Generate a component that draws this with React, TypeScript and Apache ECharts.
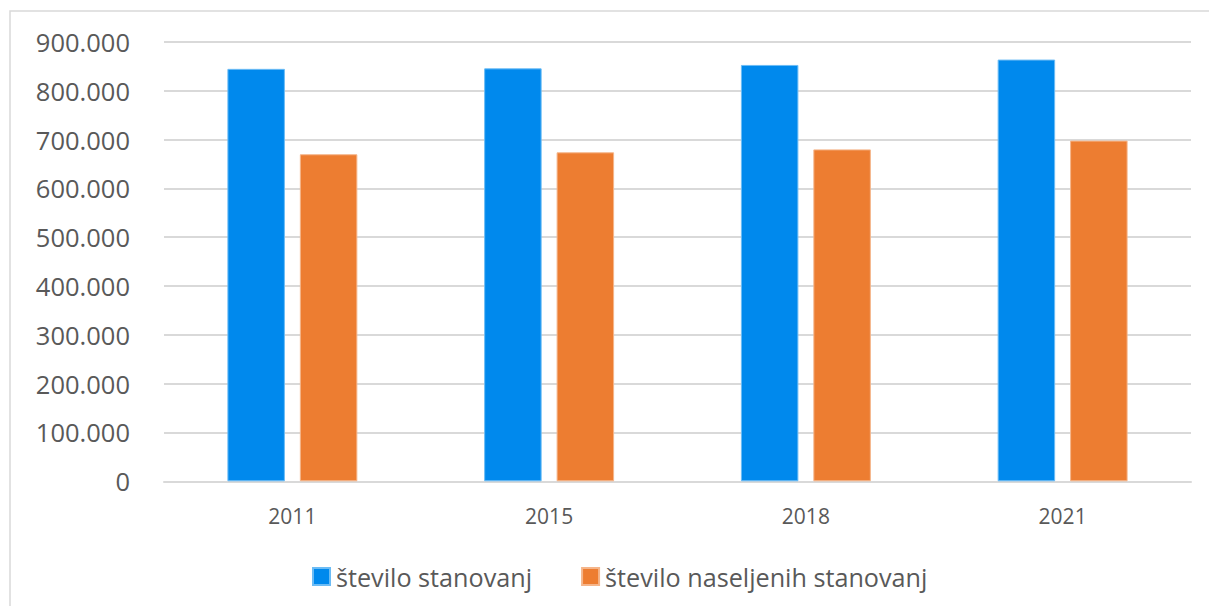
import React, { useEffect, useRef } from "react";
import * as echarts from "echarts";

const categories = ["2011", "2015", "2018", "2021"];
const seriesNames = ["število stanovanj", "število naseljenih stanovanj"];
const stanovanja = [845000, 846000, 853000, 864000];
const naseljena = [670000, 674000, 680000, 698000];

const fmt = (v: number) => {
  if (v === 0) return "0";
  return String(v).replace(/\B(?=(\d{3})+(?!\d))/g, ".");
};

export default function App() {
  const ref = useRef<HTMLDivElement>(null);
  useEffect(() => {
    if (!ref.current) return;
    const chart = echarts.init(ref.current, null, { renderer: "svg" });
    const font = "'Open Sans', 'Noto Sans', sans-serif";
    chart.setOption({
      animation: false,
      backgroundColor: "#ffffff",
      textStyle: { fontFamily: font },
      graphic: [
        {
          type: "rect",
          shape: { x: 10, y: 11, width: 1300, height: 700 },
          style: { fill: "none", stroke: "#d9d9d9", lineWidth: 1.5 },
          silent: true,
        },
      ],
      grid: { left: 164, right: 18, top: 42, bottom: 124.7, containLabel: false },
      legend: {
        left: 307,
        top: 559,
        itemWidth: 17,
        itemHeight: 17,
        itemGap: 49,
        icon: "rect",
        textStyle: { fontSize: 25.2, color: "#595959", fontFamily: font, padding: [0, 0, 0, 1] },
        data: seriesNames,
      },
      xAxis: {
        type: "category",
        data: categories,
        axisLine: { show: true, lineStyle: { color: "#d9d9d9", width: 2 } },
        axisTick: { show: false },
        axisLabel: { fontSize: 21, color: "#595959", margin: 24, fontFamily: font },
      },
      yAxis: {
        type: "value",
        min: 0,
        max: 900000,
        interval: 100000,
        axisLine: { show: false },
        axisTick: { show: false },
        splitLine: { lineStyle: { color: "#d9d9d9", width: 2 } },
        axisLabel: {
          fontSize: 25.5,
          color: "#595959",
          margin: 34,
          fontFamily: font,
          formatter: (v: number) => fmt(v),
        },
      },
      series: [
        {
          name: seriesNames[0],
          type: "bar",
          data: stanovanja,
          barWidth: 57.5,
          barGap: "26%",
          itemStyle: { color: "#0089ED", borderColor: "#6cbcf5", borderWidth: 1 },
        },
        {
          name: seriesNames[1],
          type: "bar",
          data: naseljena,
          barWidth: 57.5,
          barGap: "26%",
          itemStyle: { color: "#ED7D31", borderColor: "#f5b58a", borderWidth: 1 },
        },
      ],
    });
    return () => chart.dispose();
  }, []);
  return (
    <div
      ref={ref}
      style={{ position: "fixed", left: 0, top: 0, width: 1209, height: 606 }}
    />
  );
}
